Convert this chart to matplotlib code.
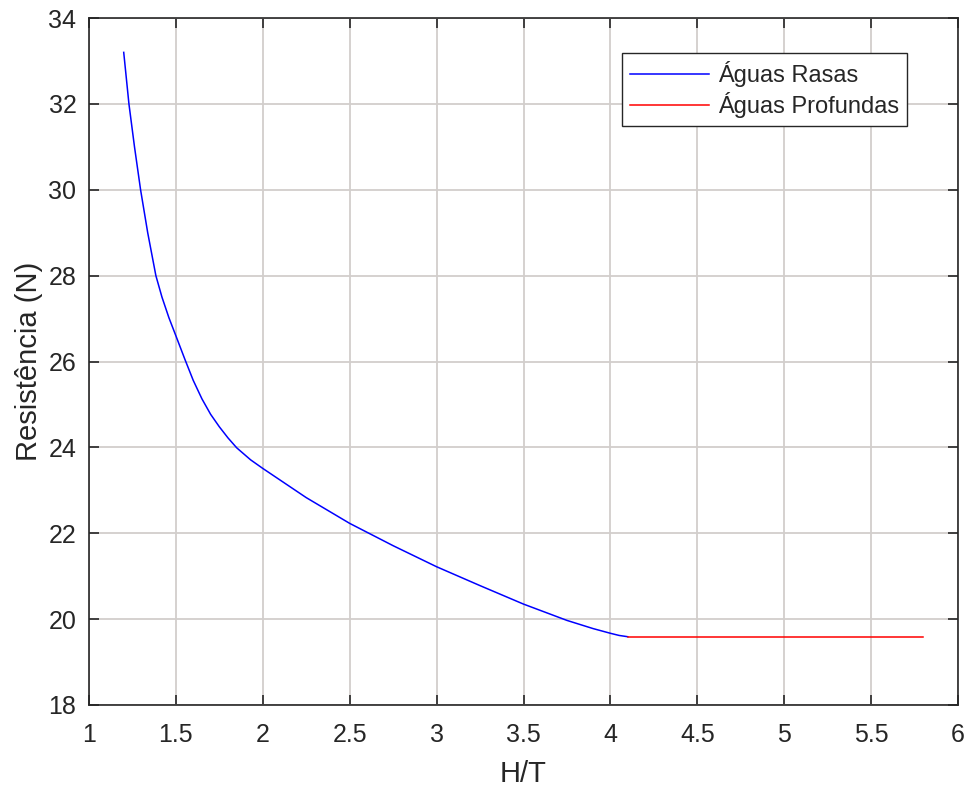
import matplotlib
matplotlib.use('Agg')
import matplotlib.pyplot as plt

# Curva de águas rasas
ht_rasas = [1.20, 1.23, 1.262, 1.297, 1.338, 1.385, 1.42, 1.46, 1.50, 1.552,
            1.60, 1.65, 1.70, 1.75, 1.80, 1.85, 1.93, 2.00, 2.25, 2.50,
            2.75, 3.00, 3.25, 3.50, 3.75, 3.90, 4.00, 4.05, 4.10]
res_rasas = [33.2, 32.0, 31.0, 30.0, 29.0, 28.0, 27.5, 27.02, 26.6, 26.05,
             25.56, 25.13, 24.77, 24.48, 24.22, 23.99, 23.71, 23.51, 22.83, 22.23,
             21.71, 21.22, 20.78, 20.35, 19.97, 19.78, 19.67, 19.62, 19.59]

# Águas profundas: resistência constante
ht_prof = [4.10, 5.80]
res_prof = [19.59, 19.59]

xticks = [1, 1.5, 2, 2.5, 3, 3.5, 4, 4.5, 5, 5.5, 6]
xlabels = ['1', '1.5', '2', '2.5', '3', '3.5', '4', '4.5', '5', '5.5', '6']
yticks = [18, 20, 22, 24, 26, 28, 30, 32, 34]

cinza = '#262626'
plt.rcParams['font.family'] = ['Liberation Sans', 'DejaVu Sans']

fig = plt.figure(figsize=(9.69, 7.87), dpi=100)
ax = fig.add_axes([0.0918, 0.1042, 0.8969, 0.8729])

ax.plot(ht_rasas, res_rasas, color='#0000ff', lw=1.1, label='Águas Rasas')
ax.plot(ht_prof, res_prof, color='#ff0000', lw=1.1, label='Águas Profundas')

ax.set_xlim(1, 6)
ax.set_ylim(18, 34)
ax.set_xticks(xticks)
ax.set_xticklabels(xlabels)
ax.set_yticks(yticks)

ax.grid(True, color='#d2cecc', lw=1.3)
ax.set_axisbelow(True)
ax.tick_params(direction='in', length=7, width=1.2, colors=cinza, labelsize=18,
               top=True, right=True)
ax.tick_params(axis='x', pad=13)
ax.tick_params(axis='y', pad=9)
for s in ax.spines.values():
    s.set_color(cinza)
    s.set_linewidth(1.2)

ax.set_xlabel('H/T', fontsize=21, color=cinza, labelpad=9)
ax.set_ylabel('Resistência (N)', fontsize=21, color=cinza, labelpad=4)

leg = ax.legend(loc='upper right', bbox_to_anchor=(0.9413, 0.9495), borderaxespad=0,
                fontsize=17, frameon=True, fancybox=False, handlelength=3.35,
                borderpad=0.35, labelspacing=0.22, handletextpad=0.35)
leg.get_frame().set_edgecolor(cinza)
leg.get_frame().set_linewidth(1.0)
leg.get_frame().set_alpha(1)
for t in leg.get_texts():
    t.set_color(cinza)

fig.savefig('out.png', dpi=100)
